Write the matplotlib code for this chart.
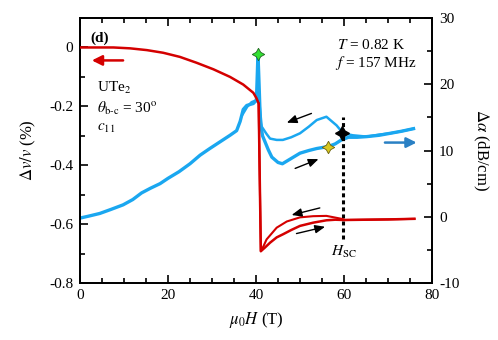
import numpy as np
import matplotlib
matplotlib.use('Agg')
import matplotlib.pyplot as plt
from matplotlib.ticker import MultipleLocator

plt.rcParams['font.family'] = ['Liberation Serif', 'DejaVu Serif']
plt.rcParams['mathtext.fontset'] = 'stix'
plt.rcParams['axes.unicode_minus'] = False

# red: sound velocity change dv/v (%), left axis
xr_up = [0, 7.6, 11.4, 15.2, 18.9, 22.7, 26.5, 30.3, 34.1, 37.1, 39.4, 40.1, 40.6,
         41.1, 42.0, 43.2, 44.7, 46.2, 48.0, 50.0, 53.0, 56.0, 58.0, 60.0, 65.0, 70.0, 76.0]
vr_up = [0, 0, -0.003, -0.009, -0.018, -0.032, -0.052, -0.074, -0.100, -0.126, -0.154, -0.172, -0.19,
         -0.692, -0.680, -0.663, -0.645, -0.634, -0.620, -0.606, -0.595, -0.587, -0.585, -0.586, -0.585, -0.584, -0.582]
xr_dn = [76.0, 70.0, 65.0, 60.0, 59.8, 56.0, 53.0, 50.0, 47.0, 44.7, 42.4, 41.7, 41.1, 40.6]
vr_dn = [-0.582, -0.584, -0.585, -0.586, -0.583, -0.572, -0.573, -0.577, -0.591, -0.612, -0.652, -0.675, -0.692, -0.19]

# blue: attenuation change (dB/cm), right axis
xa_up = [0, 2, 4.5, 7, 9.8, 12, 14, 16, 18.2, 20, 22.5, 25, 27.3, 29.5, 31.8, 34.1, 35.6, 36.4,
         37.1, 37.9, 39.4, 40.1, 40.45, 40.7, 41.0, 41.5, 42.8, 43.6, 45.0, 46.0, 48.0, 50.0, 52.0,
         53.8, 56.4, 58.0, 59.4, 61.0, 63.0, 65.2, 68.0, 70.5, 73.0, 75.8]
a_up = [-0.2, 0.1, 0.5, 1.1, 1.8, 2.6, 3.6, 4.3, 5.0, 5.8, 6.8, 8.0, 9.3, 10.3, 11.3, 12.3, 13.0, 14.4,
        16.2, 16.8, 17.1, 17.6, 24.6, 20.0, 14.1, 12.2, 10.1, 9.0, 8.2, 8.0, 8.8, 9.6, 10.0,
        10.3, 10.6, 11.0, 11.6, 12.0, 12.0, 12.1, 12.3, 12.6, 12.9, 13.3]
xa_dn = [75.8, 73.0, 70.5, 68.0, 65.2, 62.0, 59.8, 58.3, 56.0, 53.8, 52.0, 50.0, 48.0, 46.1,
         44.7, 43.2, 42.4, 41.3, 40.8, 40.1, 39.0, 38.0, 37.0]
a_dn = [13.3, 12.9, 12.6, 12.4, 12.1, 12.3, 12.6, 13.8, 15.1, 14.6, 13.6, 12.6, 12.0, 11.6,
        11.6, 11.8, 12.5, 13.6, 17.0, 17.6, 17.3, 16.6, 15.5]

red = '#d40000'
blue = '#1aa7f0'

fig = plt.figure(figsize=(4.98, 3.40), dpi=100)
ax = fig.add_axes([0.1606, 0.1676, 0.7069, 0.7794])
ax2 = ax.twinx()

ax2.plot(xa_up, a_up, color=blue, lw=2.4, zorder=2)
ax2.plot(xa_dn, a_dn, color=blue, lw=1.8, zorder=2)
ax.plot(xr_up, vr_up, color=red, lw=1.8, zorder=3)
ax.plot(xr_dn, vr_dn, color=red, lw=1.5, zorder=3)
ax.set_zorder(ax2.get_zorder() + 1)
ax.patch.set_visible(False)

# markers
star = (4, 1, 0)
ax2.plot([40.5], [24.6], marker=star, ms=9, color='#33e033', mec='#226622', mew=0.6, zorder=5)
ax2.plot([59.5], [12.6], marker=star, ms=10, color='black', zorder=5)
ax2.plot([56.4], [10.6], marker=star, ms=9, color='#d8c820', mec='#6a6010', mew=0.6, zorder=5)

# H_SC dashed line
ax2.plot([59.7, 59.7], [-3.3, 15.1], color='black', lw=2.2, ls=(0, (1.3, 1.0)), zorder=4)
ax2.text(60.0, -5.3, '$H_{\\rm SC}$', fontsize=11, ha='center', va='center')

# arrows
def arrow(a, x0, y0, x1, y1, c='black', lw=1.0, hw=0.25):
    a.annotate('', xy=(x1, y1), xytext=(x0, y0),
               arrowprops=dict(arrowstyle='-|>,head_length=0.6,head_width=%s' % hw,
                               color=c, lw=lw, shrinkA=0, shrinkB=0))

arrow(ax, 9.8, -0.044, 2.7, -0.044, c=red, lw=1.8, hw=0.3)
arrow(ax2, 69.3, 11.2, 76.5, 11.2, c='#2a80c4', lw=1.8, hw=0.3)
arrow(ax2, 52.6, 15.6, 47.0, 14.2)
arrow(ax2, 48.9, 7.3, 54.2, 8.7)
arrow(ax, 54.5, -0.545, 48.1, -0.569)
arrow(ax, 49.2, -0.632, 55.7, -0.609)

# axes
ax.set_xlim(0, 80)
ax.set_ylim(-0.8, 0.1)
ax2.set_ylim(-10, 30)
ax.xaxis.set_major_locator(MultipleLocator(20))
ax.xaxis.set_minor_locator(MultipleLocator(5))
ax.yaxis.set_major_locator(MultipleLocator(0.2))
ax.yaxis.set_minor_locator(MultipleLocator(0.1))
ax2.yaxis.set_major_locator(MultipleLocator(10))
ax2.yaxis.set_minor_locator(MultipleLocator(5))
ax.set_yticks([-0.8, -0.6, -0.4, -0.2, 0])
ax.set_yticklabels(['-0.8', '-0.6', '-0.4', '-0.2', '0'])
ax2.set_yticks([-10, 0, 10, 20, 30])
ax2.set_yticklabels(['-10', '0', '10', '20', '30'])

ax.tick_params(axis='x', which='both', direction='in', top=True, labelsize=11, width=1.2, pad=4)
ax.tick_params(axis='y', which='both', direction='in', right=False, labelsize=11, width=1.2, pad=5)
ax.tick_params(which='major', length=6)
ax.tick_params(which='minor', length=3.5)
ax2.tick_params(axis='y', which='both', direction='in', labelsize=11, width=1.2, pad=5)
ax2.tick_params(which='major', length=6)
ax2.tick_params(which='minor', length=3.5)
for a in (ax, ax2):
    for s in a.spines.values():
        s.set_linewidth(1.3)

ax.set_xlabel('$\\mu_0H$ (T)', fontsize=12, labelpad=6)
ax.set_ylabel('$\\Delta v/v$ (%)', fontsize=12, labelpad=8)
ax2.set_ylabel('$\\Delta\\alpha$ (dB/cm)', fontsize=12, rotation=270, labelpad=22)

# annotations
ax.text(0.03, 0.925, '(d)', transform=ax.transAxes, fontsize=11, fontweight='bold', va='center')
ax.text(0.048, 0.735, 'UTe$_2$', transform=ax.transAxes, fontsize=11, va='center')
ax.text(0.048, 0.66, '$\\theta_{\\rm b\\text{-}c}$ = 30$^{\\rm o}$', transform=ax.transAxes, fontsize=11, va='center')
ax.text(0.048, 0.585, '$c_{11}$', transform=ax.transAxes, fontsize=11, va='center')
ax.text(0.73, 0.90, '$T$ = 0.82 K', transform=ax.transAxes, fontsize=11, va='center')
ax.text(0.723, 0.832, '$f$ = 157 MHz', transform=ax.transAxes, fontsize=11, va='center')

fig.savefig('out.png', dpi=100)
